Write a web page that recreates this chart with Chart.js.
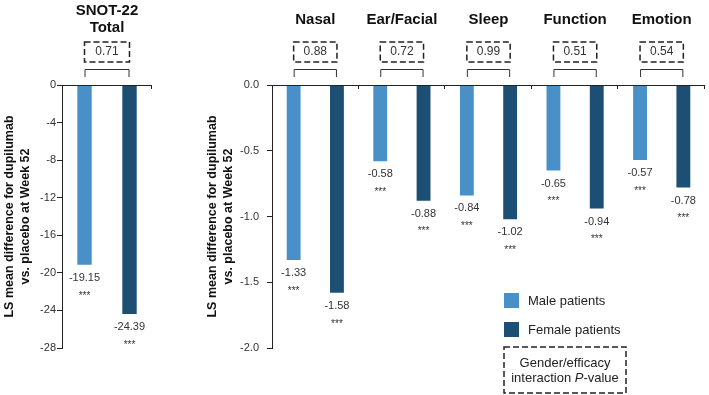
<!DOCTYPE html>
<html>
<head>
<meta charset="utf-8">
<script src="https://cdn.jsdelivr.net/npm/chart.js@4.4.1/dist/chart.umd.min.js"></script>
<style>
  html, body { margin: 0; padding: 0; background: #fff; }
  #wrap { position: relative; width: 709px; height: 395px; overflow: hidden; }
  canvas { position: absolute; top: 0; }
</style>
</head>
<body>
<div id="wrap">
  <canvas id="totalChart" width="170" height="395" style="left:0"></canvas>
  <canvas id="domainChart" width="539" height="395" style="left:170px"></canvas>
</div>
<script>
// SNOT-22 total score
const totalLabels = [['SNOT-22', 'Total']];
const totalMale = [-19.15];
const totalFemale = [-24.39];
const totalP = ['0.71'];
const totalTicks = { min: -28, max: 0, step: 4 };

// SNOT-22 domains
const domainLabels = ['Nasal', 'Ear/Facial', 'Sleep', 'Function', 'Emotion'];
const domainMale = [-1.33, -0.58, -0.84, -0.65, -0.57];
const domainFemale = [-1.58, -0.88, -1.02, -0.94, -0.78];
const domainP = ['0.88', '0.72', '0.99', '0.51', '0.54'];
const domainTicks = { min: -2, max: 0, step: 0.5 };

const seriesNames = ['Male patients', 'Female patients'];
const stars = '***';

const lightBlue = '#4990c9';
const darkBlue = '#1c4f73';
const FONT = "'Liberation Sans', Arial, sans-serif";
const yTitle = ['LS mean difference for dupilumab', 'vs. placebo at Week 52'];

function dashedRect(ctx, x, y, w, h) {
    ctx.save();
    ctx.setLineDash([6, 3]);
    ctx.lineWidth = 1.5;
    ctx.strokeStyle = '#222';
    ctx.strokeRect(x, y, w, h);
    ctx.restore();
}

// draws labels, brackets, p-value boxes, titles and the zero line
function makeDecor(opts) {
    return {
        id: 'decor',
        afterDatasetsDraw(chart) {
            const ctx = chart.ctx;
            const xs = chart.scales.x;
            const ys = chart.scales.y;
            const area = chart.chartArea;
            const m0 = chart.getDatasetMeta(0);
            const m1 = chart.getDatasetMeta(1);
            ctx.save();

            // zero line with category ticks pointing down
            const y0 = ys.getPixelForValue(0);
            ctx.strokeStyle = '#222';
            ctx.lineWidth = 1;
            ctx.beginPath();
            ctx.moveTo(area.left, y0 + 0.5);
            ctx.lineTo(area.right, y0 + 0.5);
            const catW = (area.right - area.left) / chart.data.labels.length;
            chart.data.labels.forEach((l, i) => {
                const bx = Math.round(xs.getPixelForValue(i) + catW / 2) - 0.5;
                ctx.moveTo(bx, y0);
                ctx.lineTo(bx, y0 + 4);
            });
            ctx.stroke();

            // value labels and significance
            ctx.fillStyle = '#333';
            ctx.textAlign = 'center';
            ctx.textBaseline = 'middle';
            [m0, m1].forEach((meta, d) => {
                meta.data.forEach((bar, i) => {
                    const v = chart.data.datasets[d].data[i];
                    ctx.font = '11px ' + FONT;
                    ctx.fillText(v.toFixed(2), bar.x, bar.y + 13);
                    ctx.font = '10px ' + FONT;
                    ctx.fillText(stars, bar.x, bar.y + 31);
                });
            });

            // brackets, p-value boxes, titles
            chart.data.labels.forEach((label, i) => {
                const x1 = m0.data[i].x;
                const x2 = m1.data[i].x;
                ctx.strokeStyle = '#333';
                ctx.lineWidth = 1;
                ctx.beginPath();
                ctx.moveTo(x1 + 0.5, 77);
                ctx.lineTo(x1 + 0.5, 69.5);
                ctx.lineTo(x2 - 0.5, 69.5);
                ctx.lineTo(x2 - 0.5, 77);
                ctx.stroke();
                dashedRect(ctx, x1, 42, x2 - x1, 20);
                ctx.fillStyle = '#333';
                ctx.font = '12px ' + FONT;
                ctx.fillText(opts.pValues[i], (x1 + x2) / 2, 52);

                ctx.fillStyle = '#111';
                ctx.font = 'bold 15px ' + FONT;
                const cx = xs.getPixelForValue(i);
                if (Array.isArray(label)) {
                    ctx.fillText(label[0], cx, 11);
                    ctx.fillText(label[1], cx, 28);
                } else {
                    ctx.fillText(label, cx, 20);
                }
            });

            // rotated y axis title
            ctx.save();
            ctx.fillStyle = '#111';
            ctx.font = 'bold 12.5px ' + FONT;
            ctx.translate(opts.titleX, (area.top + area.bottom) / 2);
            ctx.rotate(-Math.PI / 2);
            ctx.fillText(yTitle[0], 0, 0);
            ctx.fillText(yTitle[1], 0, 16);
            ctx.restore();

            if (opts.legend) {
                const lg = opts.legend;
                ctx.font = '13px ' + FONT;
                ctx.textAlign = 'left';
                chart.data.datasets.forEach((ds, d) => {
                    const ly = lg.y + d * 29;
                    ctx.fillStyle = ds.backgroundColor;
                    ctx.fillRect(lg.x, ly, 15, 15);
                    ctx.fillStyle = '#222';
                    ctx.fillText(ds.label, lg.x + 24, ly + 8);
                });
                dashedRect(ctx, lg.x, 347, 122, 46);
                ctx.textAlign = 'center';
                ctx.fillStyle = '#222';
                const cx = lg.x + 61;
                ctx.fillText('Gender/efficacy', cx, 363);
                const a = 'interaction ', p = 'P', b = '-value';
                const wa = ctx.measureText(a).width;
                const wb = ctx.measureText(b).width;
                ctx.font = 'italic 13px ' + FONT;
                const wp = ctx.measureText(p).width;
                let sx = cx - (wa + wp + wb) / 2;
                ctx.textAlign = 'left';
                ctx.font = '13px ' + FONT;
                ctx.fillText(a, sx, 378);
                ctx.font = 'italic 13px ' + FONT;
                ctx.fillText(p, sx + wa, 378);
                ctx.font = '13px ' + FONT;
                ctx.fillText(b, sx + wa + wp, 378);
            }
            ctx.restore();
        }
    };
}

function buildChart(id, labels, male, female, ticks, opts) {
    const ctx = document.getElementById(id).getContext('2d');
    return new Chart(ctx, {
        type: 'bar',
        data: {
            labels: labels,
            datasets: [
                { label: seriesNames[0], data: male, backgroundColor: lightBlue },
                { label: seriesNames[1], data: female, backgroundColor: darkBlue }
            ]
        },
        options: {
            responsive: false,
            animation: false,
            devicePixelRatio: 1,
            categoryPercentage: 1.0,
            barPercentage: 0.32,
            layout: { padding: { top: 85, bottom: 47, left: 0, right: opts.padRight } },
            plugins: { legend: { display: false }, tooltip: { enabled: false } },
            scales: {
                x: { display: false },
                y: {
                    min: ticks.min,
                    max: ticks.max,
                    afterFit(scale) { scale.width = opts.axisWidth; },
                    border: { color: '#222', width: 1 },
                    grid: { drawOnChartArea: false, tickLength: 5, color: '#222' },
                    ticks: {
                        stepSize: ticks.step,
                        padding: opts.tickPad,
                        color: '#333',
                        font: { family: FONT, size: 11 },
                        callback: v => opts.decimals ? v.toFixed(opts.decimals) : String(v)
                    }
                }
            }
        },
        plugins: [makeDecor(opts)]
    });
}

buildChart('totalChart', totalLabels, totalMale, totalFemale, totalTicks,
    { axisWidth: 62, padRight: 18, tickPad: 1, decimals: 0, pValues: totalP, titleX: 10 });

buildChart('domainChart', domainLabels, domainMale, domainFemale, domainTicks,
    { axisWidth: 102, padRight: 4, tickPad: 8, decimals: 1, pValues: domainP, titleX: 43,
      legend: { x: 334, y: 293 } });
</script>
</body>
</html>
